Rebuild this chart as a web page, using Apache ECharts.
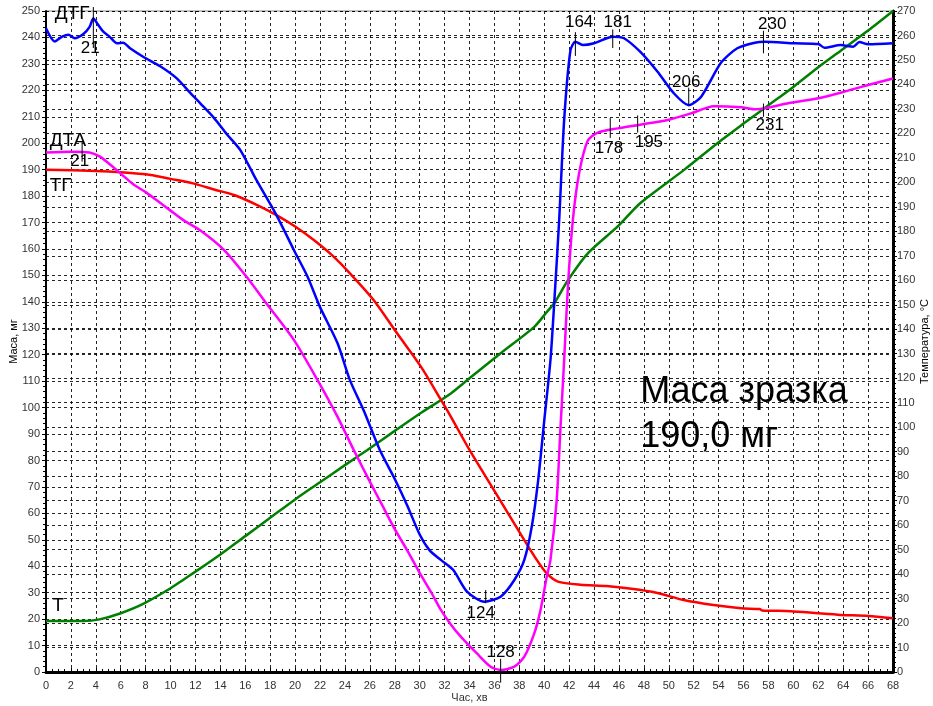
<!DOCTYPE html>
<html>
<head>
<meta charset="utf-8">
<script src="https://cdn.jsdelivr.net/npm/echarts@6/dist/echarts.min.js"></script>
<style>
html,body{margin:0;padding:0;background:#fff;}
#c{width:933px;height:706px;}
</style>
</head>
<body>
<div id="c"></div>
<script>
// ---- data (x = time, min; left axis = mass units, right axis = °C) ----
const dtg = [[0,243.5],[0.7,238.5],[1.3,240.3],[1.8,241],[2.3,239.7],[3.0,241.3],[3.5,244],[3.8,247.2],[4.2,244.7],[4.6,242.2],[5.1,240.3],[5.7,237.8],[6.2,238],[6.75,235.9],[7.8,232.7],[9.2,229],[10.5,224.5],[11.6,218.9],[12.4,215],[13.5,209.5],[14.5,203.5],[15.6,197.4],[16.9,186],[18.5,172.8],[19.9,159.6],[21,149.5],[22,138],[23.4,124.4],[24.4,110.4],[25.5,99],[26.8,84],[28,73],[29,63],[30,52],[30.8,46],[31.7,42.4],[32.7,38.6],[33.8,30.4],[35.2,26.6],[36.5,28.5],[37.6,34.8],[38.4,42.4],[39,55],[39.5,72],[40,95],[40.5,118],[40.8,139.4],[41.2,171],[41.6,208.8],[42.1,235],[42.5,238.4],[43.1,237.1],[44,237.8],[45.5,240.3],[46.4,239.7],[47.7,234.6],[49.1,227],[50.4,218.9],[51.6,214.4],[52.6,217.6],[54.2,230.5],[55.5,235.9],[56.9,238],[57.7,238.4],[60.1,237.8],[62,237.5],[62.5,236.1],[63.8,237.1],[64.8,236.5],[65.3,238.3],[66,237.4],[68,237.8]];
const dta = [[0,196.5],[2,196.8],[3.5,196.5],[4.3,195],[5,192.5],[6,188.5],[7,184.5],[8,181.5],[9,178],[10,174.5],[11,171],[12.4,167],[14.3,159.6],[16.1,149.5],[17.7,139.4],[19.9,125.6],[21.8,110.4],[23.4,96.6],[24.7,84],[26,72],[27,63],[28,54],[29,46],[30,37.5],[31,29.5],[31.7,23.5],[32.5,18],[33.3,13.4],[34.6,7],[35.7,2],[36.5,0.8],[37.6,2],[38.4,5.8],[39.2,14.6],[39.7,23.4],[40.2,36],[40.5,42.4],[41,65],[41.3,92],[41.6,118],[41.9,145.7],[42.3,171],[42.8,188.6],[43.5,201],[44.3,204],[45.9,205.6],[47.7,207],[49.9,208.8],[51.8,211.3],[53.6,214],[55.8,213.6],[57,212.8],[57.7,213.2],[59.5,215],[62,217],[64.1,219.5],[66,222],[68,224.5]];
const tg = [[0,190],[4,189.5],[6,189],[8.4,188],[10,186.5],[11.8,184.8],[13.5,182.5],[15.1,180.4],[17,176.5],[18.5,172.8],[20,168.5],[21.5,163.4],[23,157.5],[24.4,150.8],[26.3,140.7],[28.2,128],[30.1,115.5],[31.7,103],[32.5,96.6],[34,84],[36,68.5],[38,53],[39.4,42.4],[40.2,37.3],[41.1,34.2],[42.9,33],[45,32.5],[47,31.5],[49,30],[51.2,27.2],[53.6,25.3],[55.8,24.1],[57.3,23.8],[57.5,23.3],[59.8,23],[62,22.2],[63.8,21.6],[66,21.2],[68,20.3]];
const temp = [[0,20.8],[3,20.8],[4.3,21.5],[6,24],[7.8,27.8],[10,34.2],[11,37.6],[12,41],[14,48],[16,55.5],[18,63],[20,70.5],[22,77.5],[24,84.5],[25.8,90.7],[28,98.5],[30,105.5],[32.5,113.8],[34,120],[36.5,130.2],[39.2,141],[40.2,147],[40.8,150.6],[41.9,160],[43.5,171],[45.9,182],[47.7,191.5],[51.2,205],[53.9,216],[56,224],[58,231.5],[60,239],[62,247],[64,254.5],[66,262],[68,270]];

// annotation marks: [x, yFrom, yTo] (left axis units)
const markTicks = [[3.8,236,251.5],[2.9,193,200.5],[42.5,233,242],[45.5,236,243],[51.6,214.5,221],[57.6,234,242.5],[45.3,202,209.5],[47.5,204,210.5],[57.6,210,215],[35.3,26,31],[36.5,-4,5]];
// annotation texts: [x, y, text, align, size]
const markTexts = [[0.7,249,'ДТГ','left',19],[3.55,236,'21','center',17],[0.3,200.8,'ДТА','left',19],[2.7,193.3,'21','center',17],[0.3,183.8,'ТГ','left',19],[0.5,25,'Т','left',19],[42.8,245.8,'164','center',17],[45.9,245.8,'181','center',17],[51.4,223.1,'206','center',17],[58.3,245,'230','center',17],[45.2,198.2,'178','center',17],[48.4,200.5,'195','center',17],[58.1,206.9,'231','center',17],[34.9,22.3,'124','center',17],[36.5,7.6,'128','center',17]];
const noteLines = [[47.7,105.9,'Маса зразка'],[47.7,88.9,'190,0 мг']];

const FONT = 'Liberation Sans, Arial, sans-serif';
const gridLine = {show:true, lineStyle:{color:'#000', width:1, type:[3,3], opacity:0.85}};
const chart = echarts.init(document.getElementById('c'), null, {renderer:'canvas'});

function lineSeries(name, data, color, yIdx){
  return {name, type:'line', data, yAxisIndex:yIdx, showSymbol:false, symbol:'none',
    smooth:0.25, lineStyle:{color, width:2.5}, itemStyle:{color}, z:5, silent:true};
}

chart.setOption({
  animation:false,
  backgroundColor:'#fff',
  grid:{left:46, right:40, top:11, bottom:34, containLabel:false, outerBoundsMode:'none',
        show:true, borderColor:'#888', borderWidth:1},
  xAxis:{type:'value', min:0, max:68, interval:2,
    name:'Час, хв', nameLocation:'middle', nameGap:20, nameMoveOverlap:false,
    nameTextStyle:{fontFamily:FONT, fontSize:11, color:'#333'},
    axisLine:{show:true, onZero:false, lineStyle:{color:'#000', width:3}},
    axisTick:{show:true, inside:true, length:4, lineStyle:{color:'#000'}},
    minorTick:{show:true, splitNumber:4, length:3, lineStyle:{color:'#000'}},
    axisLabel:{fontFamily:FONT, fontSize:11, color:'#333', margin:8},
    splitLine:gridLine},
  yAxis:[
    {type:'value', min:0, max:250, interval:10, position:'left',
     name:'Маса, мг', nameLocation:'middle', nameGap:27, nameRotate:90, nameMoveOverlap:false,
     nameTextStyle:{fontFamily:FONT, fontSize:11, color:'#000'},
     axisLine:{show:true, onZero:false, lineStyle:{color:'#000', width:2}},
     axisTick:{show:true, length:4, lineStyle:{color:'#000'}},
     minorTick:{show:true, splitNumber:5, length:3, lineStyle:{color:'#000'}},
     axisLabel:{fontFamily:FONT, fontSize:11, color:'#333', margin:6},
     splitLine:gridLine},
    {type:'value', min:0, max:270, interval:10, position:'right',
     name:'Температура, °C', nameLocation:'middle', nameGap:26, nameRotate:90, nameMoveOverlap:false,
     nameTextStyle:{fontFamily:FONT, fontSize:11, color:'#000'},
     axisLine:{show:true, onZero:false, lineStyle:{color:'#000', width:3}},
     axisTick:{show:true, length:4, lineStyle:{color:'#000'}},
     minorTick:{show:true, splitNumber:5, length:3, lineStyle:{color:'#000'}},
     axisLabel:{fontFamily:FONT, fontSize:11, color:'#333', margin:4},
     splitLine:gridLine}
  ],
  series:[
    lineSeries('Т', temp, '#008000', 1),
    lineSeries('ТГ', tg, '#ff0000', 0),
    lineSeries('ДТА', dta, '#ff00ff', 0),
    lineSeries('ДТГ', dtg, '#0000ff', 0),
    {type:'custom', name:'ticks', data:markTicks, clip:false, silent:true, z:6,
     encode:{x:0, y:1},
     renderItem:function(params, api){
       const p1 = api.coord([api.value(0), api.value(1)]);
       const p2 = api.coord([api.value(0), api.value(2)]);
       return {type:'line', shape:{x1:p1[0], y1:p1[1], x2:p2[0], y2:p2[1]},
               style:{stroke:'#000', lineWidth:1}};
     }},
    {type:'custom', name:'texts', data:markTexts.map(d=>[d[0],d[1]]), clip:false, silent:true, z:7,
     encode:{x:0, y:1},
     renderItem:function(params, api){
       const d = markTexts[params.dataIndex];
       const p = api.coord([d[0], d[1]]);
       return {type:'text', x:p[0], y:p[1],
               style:{text:d[2], fill:'#000', font:d[4] + 'px ' + FONT, align:d[3], verticalAlign:'middle'}};
     }},
    {type:'custom', name:'note', data:noteLines.map(d=>[d[0],d[1]]), clip:false, silent:true, z:7,
     encode:{x:0, y:1},
     renderItem:function(params, api){
       const d = noteLines[params.dataIndex];
       const p = api.coord([d[0], d[1]]);
       return {type:'text', x:p[0], y:p[1],
               style:{text:d[2], fill:'#000', font:'36px ' + FONT, align:'left', verticalAlign:'middle'}};
     }}
  ]
});
</script>
</body>
</html>
